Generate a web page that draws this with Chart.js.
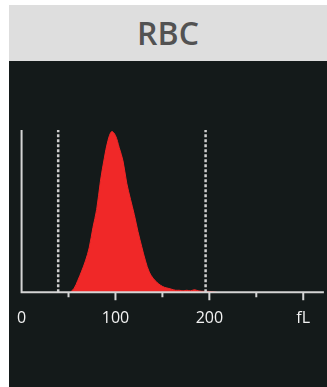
<!DOCTYPE html>
<html>
<head>
<meta charset="utf-8">
<script src="https://cdn.jsdelivr.net/npm/chart.js@4/dist/chart.umd.min.js"></script>
<style>
  html, body { margin: 0; padding: 0; background: #ffffff; }
  body { width: 327px; height: 387px; position: relative; overflow: hidden; }
  #header { position: absolute; left: 9px; top: 5px; width: 318px; height: 56px; background: #dedede;
    font-family: "Open Sans", sans-serif; font-weight: 600; font-size: 32px; color: #525252;
    text-align: center; line-height: 56px; }
  #panel { position: absolute; left: 9px; top: 61px; width: 318px; height: 326px; background: #141a1a; }
  #wrap { position: absolute; left: 0; top: 0; width: 327px; height: 387px; }
</style>
</head>
<body>
<div id="header">RBC</div>
<div id="panel"></div>
<div id="wrap"><canvas id="c" width="327" height="387"></canvas></div>
<script>
// Cell volume (fL) and relative count of the RBC histogram
const SIZES_FL = [52, 56, 60, 64, 68, 72, 76, 80, 84, 88, 92, 96, 100, 104, 108, 112, 116, 120, 124, 128,
  132, 136, 140, 144, 148, 152, 156, 160, 164, 168, 172, 176, 180, 184, 188, 192, 196, 200, 204, 208];
const COUNTS = [0, 4, 12, 21, 31, 44, 64, 82, 110, 132, 150, 159, 155, 143, 130, 108, 92, 77, 60, 45,
  31, 20, 14, 10, 7, 5, 4, 3, 2, 2, 1.5, 2, 1.5, 2.5, 1.5, 1, 1, 0.8, 0.5, 0];
// Discriminator (gate) positions in fL
const GATES = [39, 196];
// Axis ticks
const X_TICKS = [0, 100, 200, 300];
const X_TICK_LABELS = ["0", "100", "200", "fL"];
const MINOR_TICKS = [50, 150, 250];
const X_MIN = 0, X_MAX = 322;
const Y_MAX = 160.5;

const AXIS_COLOR = "#d4d4d4";

const histData = SIZES_FL.map((v, i) => ({ x: v, y: COUNTS[i] }));
const gateSets = GATES.map(g => ({
  data: [{ x: g, y: 0 }, { x: g, y: Y_MAX }],
  borderColor: "#cfcfcf",
  borderWidth: 2.5,
  borderDash: [3, 2],
  pointRadius: 0,
  fill: false,
  order: 1
}));

const axesPlugin = {
  id: "axesPlugin",
  afterDatasetsDraw(chart) {
    const ctx = chart.ctx;
    const xs = chart.scales.x, ys = chart.scales.y;
    const x0 = xs.getPixelForValue(0);
    const yBase = ys.getPixelForValue(0);
    const yTop = ys.getPixelForValue(Y_MAX);
    ctx.save();
    ctx.strokeStyle = AXIS_COLOR;
    ctx.lineWidth = 2;
    ctx.beginPath();
    ctx.moveTo(x0, yTop);
    ctx.lineTo(x0, yBase);
    ctx.moveTo(x0 - 1, yBase);
    ctx.lineTo(xs.right, yBase);
    ctx.stroke();
    ctx.beginPath();
    X_TICKS.slice(1).forEach(v => {
      const px = xs.getPixelForValue(v);
      ctx.moveTo(px, yBase);
      ctx.lineTo(px, yBase + 8);
    });
    MINOR_TICKS.forEach(v => {
      const px = xs.getPixelForValue(v);
      ctx.moveTo(px, yBase);
      ctx.lineTo(px, yBase + 5);
    });
    ctx.stroke();
    ctx.restore();
  }
};

new Chart(document.getElementById("c"), {
  type: "line",
  data: {
    datasets: [
      {
        data: histData,
        borderColor: "rgb(240,40,40)",
        borderWidth: 1,
        backgroundColor: "rgb(240,40,40)",
        fill: "origin",
        pointRadius: 0,
        tension: 0.35,
        order: 2
      },
      ...gateSets
    ]
  },
  options: {
    responsive: false,
    animation: false,
    devicePixelRatio: 1,
    layout: { padding: { left: 20, right: 0, top: 130, bottom: 41.5 } },
    plugins: { legend: { display: false }, tooltip: { enabled: false } },
    scales: {
      x: {
        type: "linear",
        min: X_MIN,
        max: X_MAX,
        afterBuildTicks: (s) => { s.ticks = X_TICKS.map(v => ({ value: v })); },
        grid: { display: false, drawTicks: false },
        border: { display: false },
        ticks: {
          color: "#f2f2f2",
          font: { family: "Open Sans", size: 16 },
          padding: 17,
          maxRotation: 0,
          autoSkip: false,
          callback: (v) => X_TICK_LABELS[X_TICKS.indexOf(v)]
        }
      },
      y: {
        display: false,
        min: 0,
        max: Y_MAX
      }
    }
  },
  plugins: [axesPlugin]
});
</script>
</body>
</html>
